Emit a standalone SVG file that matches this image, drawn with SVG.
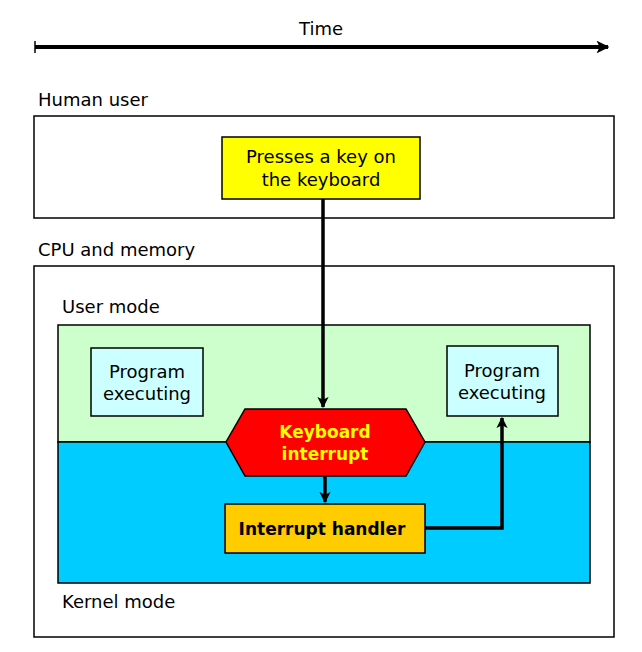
<svg xmlns="http://www.w3.org/2000/svg" width="642" height="652" viewBox="0 0 642 652">
  <style>
    text { font-family: "DejaVu Sans", "Liberation Sans", sans-serif; font-size: 18px; fill: #000; }
    .c { text-anchor: middle; }
    .b { font-weight: bold; font-size: 17px; }
    .frame { fill: #fff; stroke: #000; stroke-width: 1.5; }
    .box { stroke: #000; stroke-width: 1.5; }
    .wire { fill: none; stroke: #000; stroke-width: 3.5; }
  </style>
  <defs>
    <marker id="head" viewBox="0 0 10 10" refX="9" refY="5" markerWidth="3.2" markerHeight="3.2" orient="auto" markerUnits="strokeWidth">
      <path d="M0,0 L10,5 L0,10 L2.5,5 Z" fill="#000"/>
    </marker>
  </defs>

  <!-- time axis -->
  <g id="time-axis">
    <text class="c" x="321" y="35">Time</text>
    <line x1="35" y1="47" x2="608" y2="47" stroke="#000" stroke-width="4" marker-end="url(#head)"/>
    <line x1="35" y1="41" x2="35" y2="53" stroke="#000" stroke-width="1.5"/>
  </g>

  <!-- human user lane -->
  <g id="human-user">
    <text x="38" y="106">Human user</text>
    <rect class="frame" x="34" y="116" width="580" height="102"/>
  </g>

  <!-- cpu and memory lane -->
  <g id="cpu-memory">
    <text x="38" y="256">CPU and memory</text>
    <rect class="frame" x="34" y="266" width="580" height="371"/>
  </g>

  <g id="user-mode">
    <text x="62" y="313">User mode</text>
    <rect class="box" x="58" y="325" width="532" height="117" fill="#ccffcc"/>
  </g>

  <g id="kernel-mode">
    <rect class="box" x="58" y="442" width="532" height="141" fill="#00ccff"/>
    <text x="62" y="608">Kernel mode</text>
  </g>

  <g id="key-press">
    <rect class="box" x="222" y="137" width="198" height="62" fill="#ffff00"/>
    <text class="c" x="321" y="163">Presses a key on</text>
    <text class="c" x="321" y="186">the keyboard</text>
  </g>

  <g id="program-before">
    <rect class="box" x="91" y="348" width="112" height="68" fill="#ccffff"/>
    <text class="c" x="147" y="378">Program</text>
    <text class="c" x="147" y="400">executing</text>
  </g>

  <g id="program-after">
    <rect class="box" x="447" y="346" width="111" height="70" fill="#ccffff"/>
    <text class="c" x="502" y="377">Program</text>
    <text class="c" x="502" y="399">executing</text>
  </g>

  <g id="keyboard-interrupt">
    <polygon class="box" points="245,409 406,409 425,442 406,476 245,476 226,442" fill="#ff0000"/>
    <text class="c b" x="325" y="438" style="fill:#ffff00">Keyboard</text>
    <text class="c b" x="325" y="460" style="fill:#ffff00">interrupt</text>
  </g>

  <g id="interrupt-handler">
    <rect class="box" x="225" y="504" width="200" height="49" fill="#ffcc00"/>
    <text class="c b" x="322" y="535">Interrupt handler</text>
  </g>

  <!-- connectors -->
  <g id="connectors">
    <line class="wire" x1="323" y1="199" x2="323" y2="407" stroke-width="3" marker-end="url(#head)"/>
    <line class="wire" x1="325" y1="476" x2="325" y2="502" stroke-width="3" marker-end="url(#head)"/>
    <polyline class="wire" points="425,528 502,528 502,418" stroke-width="3" marker-end="url(#head)"/>
  </g>
</svg>
